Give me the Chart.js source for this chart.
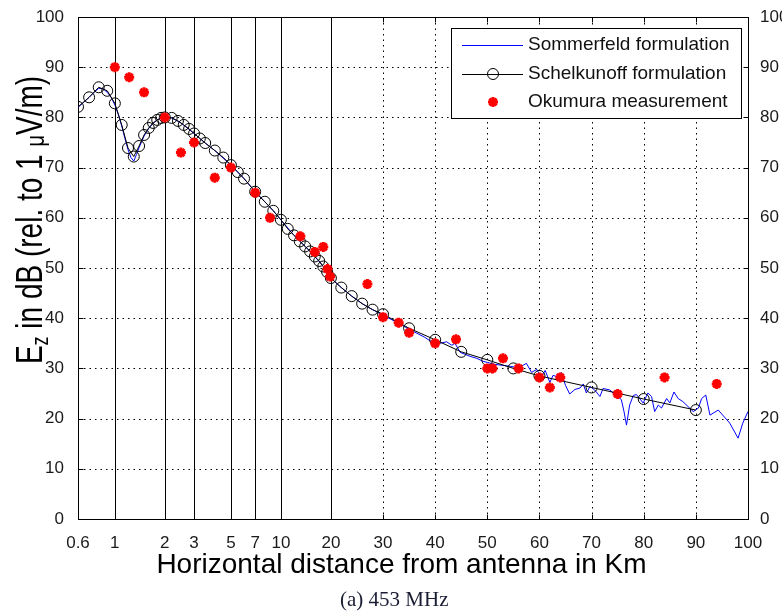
<!DOCTYPE html>
<html>
<head>
<meta charset="utf-8">
<script src="https://cdn.jsdelivr.net/npm/chart.js@4.4.0/dist/chart.umd.min.js"></script>
<style>
  html, body { margin: 0; padding: 0; background: #fff; }
  #wrap { width: 782px; height: 616px; }
</style>
</head>
<body>
<div id="wrap"><canvas id="fieldChart" width="782" height="616"></canvas></div>
<script>
// distance (km) and field strength (dB rel. 1 uV/m)
var sommDistKm = [0.6, 0.65, 0.7, 0.75, 0.8, 0.85, 0.9, 0.95, 1.0, 1.05, 1.1, 1.15, 1.2, 1.25, 1.3, 1.35, 1.4, 1.5,
  1.6, 1.7, 1.8, 1.9, 2.0, 2.2, 2.5, 3.0, 3.5, 4, 5, 6, 7, 8, 9, 10, 12, 14, 16, 18, 20, 22, 24, 26, 28, 30, 33, 35,
  38, 39.3, 40.9, 42.2, 43.2, 43.8, 44.8, 46.7, 48.0, 49.2, 50.0, 51.5, 53.0, 54.5, 56.0, 57.5, 58.5, 59.5, 60.3,
  61.1, 62.0, 62.6, 63.6, 64.2, 65.0, 65.8, 66.8, 67.8, 68.4, 69.0, 69.7, 70.6, 71.6, 72.2, 73.5, 74.5, 75.7, 76.2,
  76.7, 77.3, 78.0, 78.6, 79.9, 80.8, 81.5, 82.1, 82.8, 83.4, 84.4, 85.0, 85.8, 86.6, 87.5, 88.5, 89.5, 90.5, 91.1,
  91.9, 92.7, 94.3, 96.5, 98.1, 99.0, 100];
var sommFieldDb = [82.0, 83.0, 84.0, 85.0, 85.8, 85.7, 85.0, 84.0, 82.5, 80.6, 78.3, 75.8, 73.6, 72.0, 71.3, 72.6, 74.0, 76.3,
  77.8, 78.8, 79.5, 79.9, 80.0, 79.9, 78.9, 76.8, 74.9, 73.4, 70.5, 67.8, 65.2, 63.2, 61.4, 59.6, 56.5, 54.3, 52.3, 50.3, 48.0, 46.1, 44.4, 42.9, 41.7, 40.6, 39.0, 37.8,
  36.2, 35.3, 35.0, 35.3, 34.6, 35.0, 33.2, 32.4, 32.0, 31.4, 31.2, 30.8, 30.6, 30.4, 30.1, 31.0, 29.2, 29.8, 28.2,
  29.6, 27.2, 28.6, 28.3, 29.2, 26.6, 24.9, 25.8, 26.1, 26.9, 25.1, 26.4, 25.7, 24.4, 26.0, 25.7, 24.8, 23.8, 21.5,
  18.7, 22.7, 24.6, 24.8, 23.1, 25.1, 24.4, 21.4, 22.7, 22.1, 24.0, 23.1, 25.3, 24.0, 23.4, 22.4, 21.4, 22.1, 24.0,
  24.7, 20.7, 21.7, 19.1, 16.1, 19.1, 21.4];

var schelDistKm = [0.6, 0.7, 0.8, 0.9, 1.0, 1.1, 1.2, 1.3, 1.4, 1.5, 1.6, 1.7, 1.8, 1.9, 2.0, 2.2, 2.4, 2.6, 2.8, 3.0,
  3.25, 3.5, 4.0, 4.5, 5.0, 5.5, 6.0, 7, 8, 9, 10, 11, 12, 13, 14, 15, 16, 17, 18, 19, 20, 22, 24, 26, 28, 30,
  35, 40, 45, 50, 55, 60, 70, 80, 90];
var schelFieldDb = [82.1, 84.0, 86.0, 85.3, 82.8, 78.5, 73.9, 72.2, 74.3, 76.5, 77.9, 78.9, 79.5, 79.9, 80.0, 79.9, 79.3, 78.5, 77.7, 76.8,
  75.8, 74.9, 73.4, 72.0, 70.5, 69.1, 67.8, 65.2, 63.2, 61.4, 59.6, 57.8, 56.5, 55.3, 54.3, 53.3, 52.3, 51.4, 50.3, 49.2, 48.0, 46.1, 44.4, 42.9, 41.7, 40.8,
  38.0, 35.7, 33.3, 31.7, 30.0, 28.5, 26.2, 23.9, 21.7];

var okuDistKm = [1.0, 1.22, 1.5, 2.0, 2.5, 3.0, 4.0, 5.0, 7.0, 8.6, 13.1, 16.0, 18.0, 19.1, 19.8, 27, 30, 33, 35, 40,
  44, 50, 51, 53, 56, 60, 62, 64, 75, 84, 94];
var okuFieldDb = [90, 88, 85, 80, 73, 75, 68, 70, 65, 60, 56.3, 53.2, 54.2, 49.8, 48.3, 46.8, 40.2, 39.1, 37.1, 35.0,
  35.8, 30.0, 30.0, 32.0, 30.0, 28.2, 26.2, 28.2, 24.9, 28.2, 26.9];

var seriesNames = ['Sommerfeld formulation', 'Schelkunoff formulation', 'Okumura measurement'];
var xTickKm = [0.6, 1, 2, 3, 5, 7, 10, 20, 30, 40, 50, 60, 70, 80, 90, 100];
var xTickLabels = ['0.6', '1', '2', '3', '5', '7', '10', '20', '30', '40', '50', '60', '70', '80', '90', '100'];
var yTicksDb = [0, 10, 20, 30, 40, 50, 60, 70, 80, 90, 100];

var SANS = "'Liberation Sans', Arial, sans-serif";
var SERIF = "'Liberation Serif', 'Times New Roman', serif";

// log spacing up to 20 km, linear spacing beyond
function kmToAxis(d) {
  return d <= 20 ? Math.log10(d) : Math.log10(20) + (d - 20) * 0.0314;
}

function toPoints(xs, ys) {
  return xs.map(function (d, i) { return { x: kmToAxis(d), y: ys[i] }; });
}

function crisp(v) { return Math.round(v) + 0.5; }

var framePlugin = {
  id: 'frame',
  beforeDatasetsDraw: function (chart) {
    var ctx = chart.ctx, a = chart.chartArea;
    var xs = chart.scales.x, ys = chart.scales.y;
    var L = crisp(a.left), R = crisp(a.right), T = crisp(a.top), B = crisp(a.bottom);
    ctx.save();
    ctx.strokeStyle = '#000';
    ctx.lineWidth = 1;

    // dotted grid
    ctx.setLineDash([1.5, 4]);
    ctx.beginPath();
    yTicksDb.slice(1, -1).forEach(function (v) {
      var y = crisp(ys.getPixelForValue(v));
      ctx.moveTo(L, y); ctx.lineTo(R, y);
    });
    xTickKm.slice(1, -1).forEach(function (d) {
      if (d <= 20) return;
      var x = crisp(xs.getPixelForValue(kmToAxis(d)));
      ctx.moveTo(x, T); ctx.lineTo(x, B);
    });
    ctx.stroke();

    // solid lines over the log part
    ctx.setLineDash([]);
    ctx.beginPath();
    xTickKm.slice(1, -1).forEach(function (d) {
      if (d > 20) return;
      var x = crisp(xs.getPixelForValue(kmToAxis(d)));
      ctx.moveTo(x, T); ctx.lineTo(x, B);
    });
    // inward ticks
    yTicksDb.forEach(function (v) {
      var y = crisp(ys.getPixelForValue(v));
      ctx.moveTo(L, y); ctx.lineTo(L + 5, y);
      ctx.moveTo(R, y); ctx.lineTo(R - 5, y);
    });
    xTickKm.forEach(function (d) {
      var x = crisp(xs.getPixelForValue(kmToAxis(d)));
      ctx.moveTo(x, B); ctx.lineTo(x, B - 5);
      ctx.moveTo(x, T); ctx.lineTo(x, T + 5);
    });
    ctx.stroke();
    ctx.strokeRect(L, T, R - L, B - T);
    ctx.restore();
  }
};

var textPlugin = {
  id: 'texts',
  afterDraw: function (chart) {
    var ctx = chart.ctx;
    ctx.save();

    // legend box
    var bx = 451, by = 28, bw = 290, bh = 90;
    ctx.fillStyle = '#fff';
    ctx.fillRect(bx, by, bw, bh);
    ctx.strokeStyle = '#000';
    ctx.lineWidth = 1;
    ctx.strokeRect(bx + 0.5, by + 0.5, bw, bh);
    var rowY = [44.5, 74, 102];
    chart.data.datasets.forEach(function (ds, i) {
      var y = rowY[i];
      if (ds.showLine !== false) {
        ctx.strokeStyle = ds.borderColor;
        ctx.lineWidth = ds.borderWidth;
        ctx.beginPath();
        ctx.moveTo(462, crisp(y)); ctx.lineTo(523, crisp(y));
        ctx.stroke();
      }
      if (ds.pointRadius > 0) {
        ctx.strokeStyle = ds.pointBorderColor;
        ctx.fillStyle = ds.pointBackgroundColor;
        ctx.lineWidth = ds.pointBorderWidth;
        Chart.helpers.drawPoint(ctx, {
          pointStyle: ds.pointStyle, radius: ds.pointRadius,
          borderWidth: ds.pointBorderWidth, rotation: 0
        }, 493, y);
      }
      ctx.fillStyle = '#111';
      ctx.font = '19px ' + SANS;
      ctx.textAlign = 'left';
      ctx.textBaseline = 'middle';
      ctx.fillText(ds.label, 528, y);
    });

    // x title
    ctx.fillStyle = '#000';
    ctx.font = '28px ' + SANS;
    ctx.textAlign = 'center';
    ctx.textBaseline = 'alphabetic';
    ctx.fillText('Horizontal distance from antenna in Km', 401.5, 573);

    // y title with subscript
    var parts = [
      { t: 'E', size: 28, dy: 0 },
      { t: 'z', size: 18, dy: 5 },
      { t: ' in dB (rel. to 1 ', size: 28, dy: 0 },
      { t: '\u03bc', size: 20, dy: 2 },
      { t: 'V/m)', size: 28, dy: 0 }
    ];
    var total = 0;
    parts.forEach(function (p) {
      ctx.font = p.size + 'px ' + SANS;
      p.w = ctx.measureText(p.t).width;
      total += p.w;
    });
    ctx.translate(41.5, 220);
    ctx.rotate(-Math.PI / 2);
    ctx.scale(1, 1.33);
    ctx.textAlign = 'left';
    var cx = -total / 2;
    parts.forEach(function (p) {
      ctx.font = p.size + 'px ' + SANS;
      ctx.fillText(p.t, cx, p.dy);
      cx += p.w;
    });
    ctx.restore();

    // caption
    ctx.save();
    ctx.fillStyle = '#1b1d33';
    ctx.font = '21px ' + SERIF;
    ctx.textAlign = 'left';
    ctx.fillText('(a) 453 MHz', 340, 606);
    ctx.restore();
  }
};

var tickFont = { family: SANS, size: 17 };

new Chart(document.getElementById('fieldChart').getContext('2d'), {
  type: 'line',
  data: {
    datasets: [
      {
        label: seriesNames[0], data: toPoints(sommDistKm, sommFieldDb),
        borderColor: '#0000ff', borderWidth: 1, pointRadius: 0, fill: false, order: 2
      },
      {
        label: seriesNames[1], data: toPoints(schelDistKm, schelFieldDb),
        borderColor: '#000000', borderWidth: 1, pointStyle: 'circle', pointRadius: 5.5,
        pointBorderColor: '#000000', pointBackgroundColor: 'rgba(0,0,0,0)', pointBorderWidth: 1,
        fill: false, order: 1
      },
      {
        label: seriesNames[2], data: toPoints(okuDistKm, okuFieldDb), showLine: false,
        pointStyle: 'star', pointRadius: 5, pointBorderWidth: 3,
        pointBorderColor: '#ff0000', pointBackgroundColor: '#ff0000', order: 0
      }
    ]
  },
  options: {
    responsive: false,
    animation: false,
    events: [],
    layout: { padding: { top: 17, left: 0, right: 0, bottom: 0 } },
    plugins: { legend: { display: false }, tooltip: { enabled: false } },
    scales: {
      x: {
        type: 'linear',
        min: kmToAxis(0.6), max: kmToAxis(100),
        grid: { display: false }, border: { display: false },
        afterBuildTicks: function (s) {
          s.ticks = xTickKm.map(function (d) { return { value: kmToAxis(d) }; });
        },
        afterFit: function (s) { s.height = 97; },
        ticks: {
          autoSkip: false, maxRotation: 0, color: '#1a1a1a', font: tickFont, padding: 6,
          callback: function (v, i) { return xTickLabels[i]; }
        }
      },
      y: {
        type: 'linear', position: 'left', min: 0, max: 100,
        grid: { display: false }, border: { display: false },
        afterFit: function (s) { s.width = 78; },
        ticks: { stepSize: 10, color: '#1a1a1a', font: tickFont, padding: 6 }
      },
      y2: {
        type: 'linear', position: 'right', min: 0, max: 100,
        grid: { display: false }, border: { display: false },
        afterFit: function (s) { s.width = 34; },
        ticks: { stepSize: 10, color: '#1a1a1a', font: tickFont, padding: 4 }
      }
    }
  },
  plugins: [framePlugin, textPlugin]
});
</script>
</body>
</html>
